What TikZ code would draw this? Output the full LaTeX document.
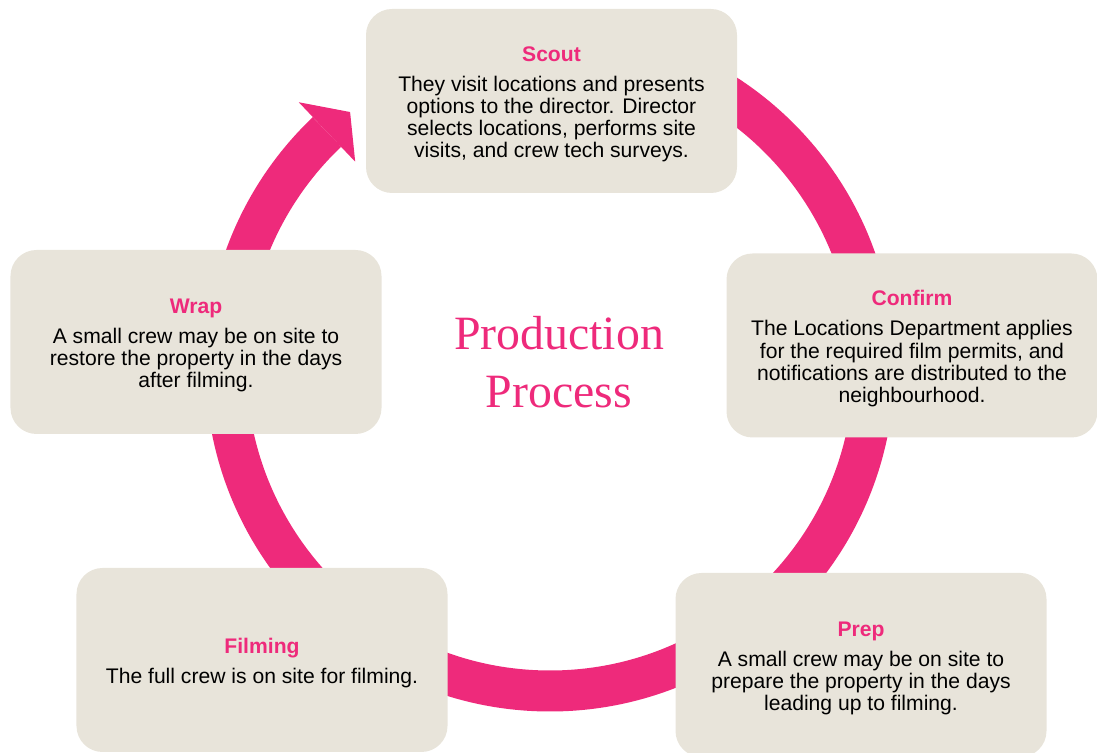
\documentclass[tikz,border=0pt]{standalone}
\usepackage{fontspec}
\setmainfont{Liberation Sans}
\newfontfamily\TitleFont{Liberation Serif}
\definecolor{cyclepink}{RGB}{238,42,123}
\definecolor{boxbeige}{RGB}{232,228,218}
\newcommand\StepHead[1]{\rule{0pt}{21.5bp}\textcolor{cyclepink}{\bfseries #1}}

\begin{document}
\begin{tikzpicture}[x=1bp,y=1bp]
			\tikzset{
			  StepStyle/.style = { fill = boxbeige, rounded corners = 26bp,
			                       minimum width = 371bp, minimum height = 184bp,
			                       align = center, text = black,
			                       font = \fontsize{21.2}{22.3}\selectfont },
			  TitleStyle/.style = { align = center, text = cyclepink,
			                        font = \TitleFont\fontsize{48}{58}\selectfont },
			  RingStyle/.style = { draw = cyclepink, line width = 41bp } }
			\useasboundingbox (0,0) rectangle (1097,753);
			\coordinate (hub) at (550,386);
%			ring with its head
			\draw[RingStyle] (hub) ++(90:324) arc[start angle=90, end angle=-226.5, radius=324];
			\fill[cyclepink, shift={(hub)}] (133.5:365) -- (128.1:324) -- (133.5:283) -- cycle;
			\node[TitleStyle] (title) at (559,391) {Production\\Process};
			\node[StepStyle] (scout) at (551.5,652) {\StepHead{Scout}\\[8bp]
			  They visit locations and presents\\ options to the director. Director\\
			  selects locations, performs site\\ visits, and crew tech surveys.};
			\node[StepStyle] (confirm) at (912,407.5) {\StepHead{Confirm}\\[8bp]
			  The Locations Department applies\\ for the required film permits, and\\
			  notifications are distributed to the\\ neighbourhood.};
			\node[StepStyle] (prep) at (861,88) {\StepHead{Prep}\\[8bp]
			  A small crew may be on site to\\ prepare the property in the days\\
			  leading up to filming.};
			\node[StepStyle] (filming) at (262,93) {\StepHead{Filming}\\[8bp]
			  The full crew is on site for filming.};
			\node[StepStyle] (wrap) at (196,411) {\StepHead{Wrap}\\[8bp]
			  A small crew may be on site to\\ restore the property in the days\\
			  after filming.};
		\end{tikzpicture}
\end{document}
